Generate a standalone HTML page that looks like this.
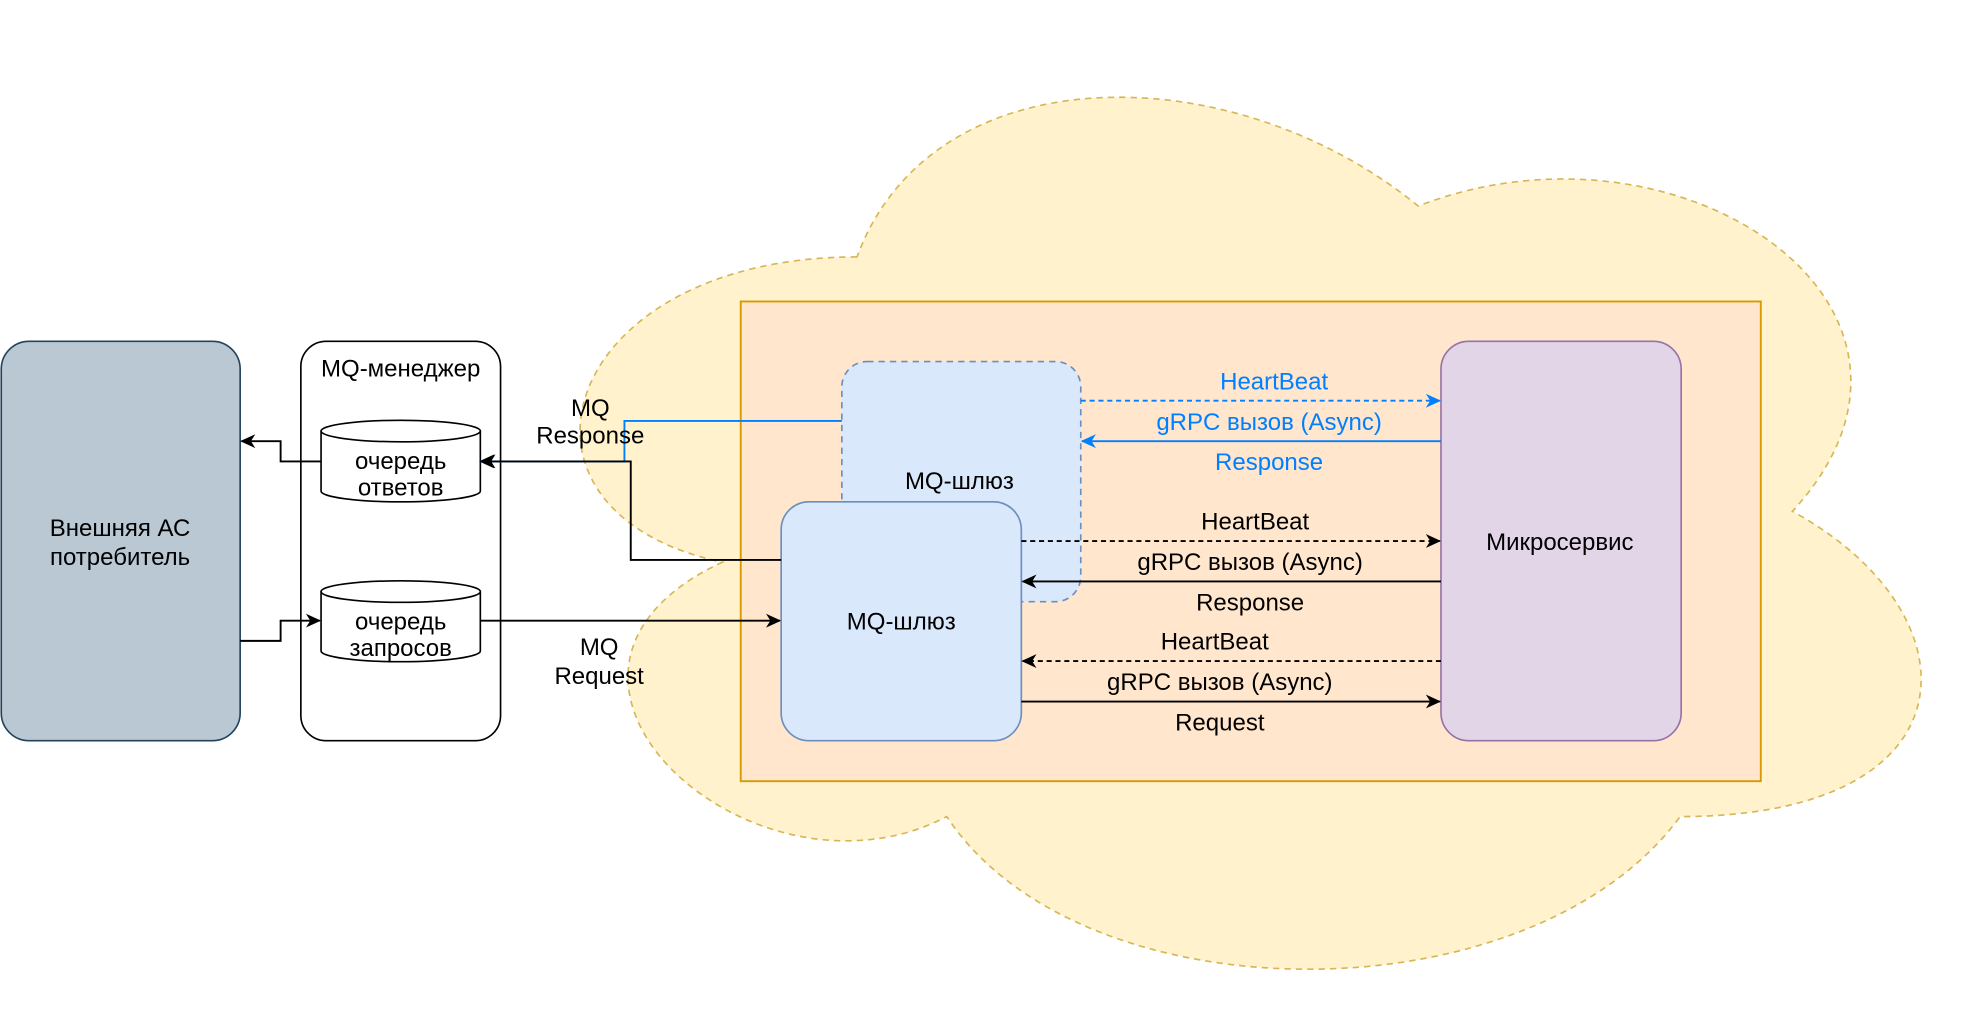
<!DOCTYPE html>
<html><head><meta charset="utf-8"><style>
html,body{margin:0;padding:0;background:#fff;width:1982px;height:1022px;overflow:hidden}
svg{display:block}
text{font-family:"Liberation Sans",sans-serif;font-size:19px;text-anchor:middle}
</style></head><body>
<svg width="1982" height="1022" viewBox="0 0 1568 808.5" xmlns="http://www.w3.org/2000/svg">
<defs>
<marker id="ab" markerWidth="12" markerHeight="12" refX="11" refY="6" orient="auto" markerUnits="userSpaceOnUse"><path d="M0,0.5 L12,6 L0,11.5 L3.5,6 Z" fill="#000"/></marker>
<marker id="bl" markerWidth="12" markerHeight="12" refX="11" refY="6" orient="auto" markerUnits="userSpaceOnUse"><path d="M0,0.5 L12,6 L0,11.5 L3.5,6 Z" fill="#007fff"/></marker>
</defs>
<path d="M678,203.25 C441.2,203.25 382,404.5 571.4,444.75 C382,533.3 595.1,726.5 749,646 C855.6,807 1210.8,807 1329.2,646 C1566,646 1566,485 1418,404.5 C1566,243.5 1329.2,82.5 1122,163 C974,42.25 737.2,42.25 678,203.25 Z" fill="#fff2cc" stroke="#d6b656" stroke-width="1.3" stroke-dasharray="5,4"/>
<rect x="586" y="238.5" width="807" height="379.5" fill="#ffe6cc" stroke="#d79b00" stroke-width="1.5"/>
<rect x="1" y="270" width="189" height="316" rx="22" fill="#bac8d3" stroke="#23445d" stroke-width="1.3"/>
<text x="95" y="424">Внешняя АС</text><text x="95" y="447">потребитель</text>
<rect x="238" y="270" width="158" height="316" rx="20" fill="#fff" stroke="#000" stroke-width="1.3"/>
<text x="317" y="298">MQ-менеджер</text>
<path d="M254,341 A63,8.5 0 0 1 380,341 V388.5 A63,8.5 0 0 1 254,388.5 Z" fill="#fff" stroke="#000" stroke-width="1.3"/>
<path d="M254,341 A63,8.5 0 0 0 380,341" fill="none" stroke="#000" stroke-width="1.3"/>
<text x="317" y="371">очередь</text><text x="317" y="392">ответов</text>
<path d="M254,468 A63,8.5 0 0 1 380,468 V515 A63,8.5 0 0 1 254,515 Z" fill="#fff" stroke="#000" stroke-width="1.3"/>
<path d="M254,468 A63,8.5 0 0 0 380,468" fill="none" stroke="#000" stroke-width="1.3"/>
<text x="317" y="498">очередь</text><text x="317" y="519">запросов</text>
<rect x="666" y="286" width="189" height="190" rx="20" fill="#dae8fc" stroke="#6c8ebf" stroke-width="1.3" stroke-dasharray="5,4"/>
<text x="759" y="387">MQ-шлюз</text>
<rect x="618" y="397" width="190" height="189" rx="22" fill="#dae8fc" stroke="#6c8ebf" stroke-width="1.3"/>
<text x="713" y="498">MQ-шлюз</text>
<rect x="1140" y="270" width="190" height="316" rx="22" fill="#e1d5e7" stroke="#9673a6" stroke-width="1.3"/>
<text x="1234" y="435">Микросервис</text>
<g fill="none" stroke-width="1.5">
<path d="M666,333 H494 V365 H380" stroke="#007fff" marker-end="url(#ab)"/>
<path d="M618,443 H499 V365 H381" stroke="#000" marker-end="url(#ab)"/>
<path d="M254,365 H222 V349 H191" stroke="#000" marker-end="url(#ab)"/>
<path d="M190,507 H222 V491 H253" stroke="#000" marker-end="url(#ab)"/>
<path d="M380,491 H617" stroke="#000" marker-end="url(#ab)"/>
<path d="M855,317 H1139" stroke="#007fff" stroke-dasharray="4,3" marker-end="url(#bl)"/>
<path d="M1140,349 H856" stroke="#007fff" marker-end="url(#bl)"/>
<path d="M808,428 H1139" stroke="#000" stroke-dasharray="4,3" marker-end="url(#ab)"/>
<path d="M1140,460 H809" stroke="#000" marker-end="url(#ab)"/>
<path d="M1140,523 H809" stroke="#000" stroke-dasharray="4,3" marker-end="url(#ab)"/>
<path d="M808,555 H1139" stroke="#000" marker-end="url(#ab)"/>
</g>
<text x="467" y="329">MQ</text><text x="467" y="351">Response</text>
<text x="474" y="518">MQ</text><text x="474" y="541">Request</text>
<g fill="#007fff">
<text x="1008" y="308">HeartBeat</text>
<text x="1004" y="340">gRPC вызов (Async)</text>
<text x="1004" y="372">Response</text>
</g>
<text x="993" y="419">HeartBeat</text>
<text x="989" y="451">gRPC вызов (Async)</text>
<text x="989" y="483">Response</text>
<text x="961" y="514">HeartBeat</text>
<text x="965" y="546">gRPC вызов (Async)</text>
<text x="965" y="578">Request</text>
</svg>
</body></html>
